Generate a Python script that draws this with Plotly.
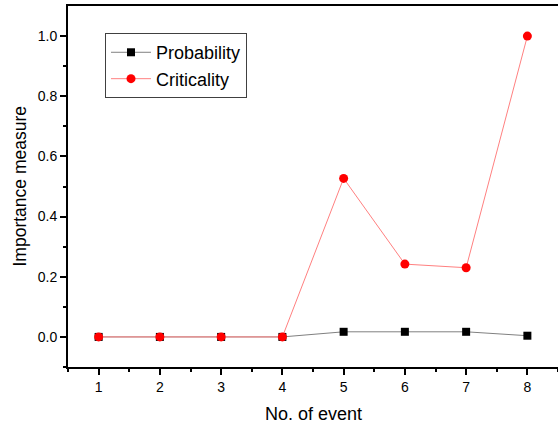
import plotly.graph_objects as go

events = [1, 2, 3, 4, 5, 6, 7, 8]
probability = [0.0, 0.0, 0.0, 0.0, 0.017, 0.017, 0.017, 0.004]
criticality = [0.0, 0.0, 0.0, 0.0, 0.527, 0.242, 0.230, 1.0]

fig = go.Figure()
fig.add_trace(go.Scatter(
    x=events, y=probability, name="Probability", mode="lines+markers",
    line=dict(color="#808080", width=1),
    marker=dict(symbol="square", color="black", size=8),
))
fig.add_trace(go.Scatter(
    x=events, y=criticality, name="Criticality", mode="lines+markers",
    line=dict(color="#FF8080", width=1),
    marker=dict(symbol="circle", color="#FF0000", size=9),
))

fam = "Liberation Sans, Arial, sans-serif"
fig.update_layout(
    width=558, height=426,
    margin=dict(l=68, r=0, t=6, b=59, autoexpand=False),
    plot_bgcolor="white", paper_bgcolor="white",
    font=dict(family=fam, color="black"),
    showlegend=True,
    legend=dict(
        x=0.0755, y=0.925, xanchor="left", yanchor="top",
        bordercolor="#404040", borderwidth=1, bgcolor="white",
        font=dict(size=18, family=fam),
        itemwidth=40, tracegroupgap=0,
    ),
    annotations=[
        dict(text="No. of event", xref="paper", yref="paper", x=0.5, y=-0.13,
             xanchor="center", yanchor="middle", showarrow=False,
             font=dict(size=18, family=fam)),
        dict(text="Importance measure", xref="paper", yref="paper", x=-0.1, y=0.5,
             xanchor="center", yanchor="middle", showarrow=False, textangle=-90,
             font=dict(size=17.5, family=fam)),
    ],
)
fig.update_xaxes(
    range=[0.5, 8.5], tickmode="array", tickvals=events,
    ticks="outside", ticklen=6, tickwidth=1.5, tickcolor="black",
    minor=dict(tickmode="array", tickvals=[0.5 + i for i in range(9)], ticks="outside", ticklen=3, tickwidth=1.5, tickcolor="black"),
    showline=True, linecolor="black", linewidth=2, mirror=True,
    showgrid=False, zeroline=False, automargin=False,
    tickfont=dict(size=14),
)
fig.update_yaxes(
    range=[-0.1, 1.1], tickmode="array", tickvals=[0, 0.2, 0.4, 0.6, 0.8, 1.0],
    tickformat=".1f",
    ticks="outside", ticklen=6, tickwidth=1.5, tickcolor="black",
    minor=dict(tickmode="array", tickvals=[-0.1, 0.1, 0.3, 0.5, 0.7, 0.9], ticks="outside", ticklen=3, tickwidth=1.5, tickcolor="black"),
    showline=True, linecolor="black", linewidth=2,
    showgrid=False, zeroline=False, automargin=False,
    tickfont=dict(size=14),
)

fig.write_html("out.html", config={"displayModeBar": False},
               post_script="document.body.style.margin='0';document.body.style.overflow='hidden';")
